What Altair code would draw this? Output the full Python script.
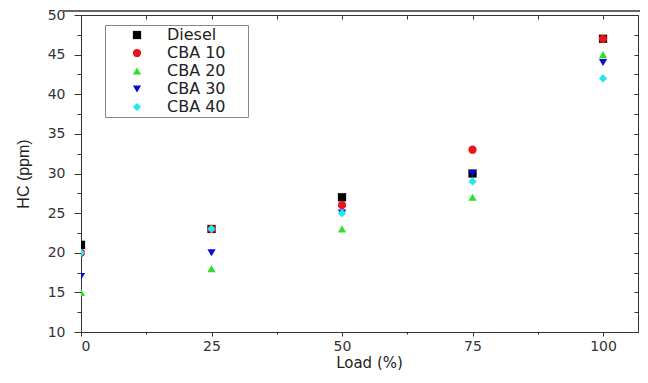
import altair as alt
import pandas as pd

loads = [0, 25, 50, 75, 100]
series_names = ["Diesel", "CBA 10", "CBA 20", "CBA 30", "CBA 40"]
diesel = [21, 23, 27, 30, 47]
cba10 = [20, 23, 26, 33, 47]
cba20 = [15, 18, 23, 27, 45]
cba30 = [17, 20, 25, 30, 44]
cba40 = [20, 23, 25, 29, 42]
colors = ["#000000", "#e8141c", "#2ee02e", "#0a0ad0", "#1ee8f0"]
shapes = ["square", "circle", "triangle-up", "triangle-down", "diamond"]

x_all = [0, 12.5, 25, 37.5, 50, 62.5, 75, 87.5, 100]
y_all = [10 + 2.5 * i for i in range(17)]

rows = []
for name, vals in zip(series_names, [diesel, cba10, cba20, cba30, cba40]):
    for l, v in zip(loads, vals):
        rows.append({"Load": l, "HC": v, "Series": name})
df = pd.DataFrame(rows)

FONT = "Liberation Sans"
WIDE = "DejaVu Sans"
xscale = alt.Scale(domain=[0, 106.7], nice=False, zero=False)
yscale = alt.Scale(domain=[10, 50], nice=False, zero=False)

pad_expr = "datum.label + '\u00a0\u00a0\u00a0\u00a0\u200b'"

points = alt.Chart(df).mark_point(filled=True, opacity=1, size=68, clip=True).encode(
    x=alt.X("Load:Q", scale=xscale, title="Load (%)",
            axis=alt.Axis(values=x_all, orient="bottom",
                          labelExpr="datum.value % 25 === 0 ? datum.label : ''",
                          labelOverlap=False, labelFont=WIDE, labelFontSize=14,
                          labelPadding=3,
                          tickSize={"condition": {"test": "datum.value % 25 === 0", "value": 4}, "value": 2},
                          grid=False, titlePadding=2, titleFont=WIDE, titleFontSize=15,
                          titleX=288, titleAlign="center")),
    y=alt.Y("HC:Q", scale=yscale, title="HC (ppm)",
            axis=alt.Axis(values=y_all, orient="left",
                          labelExpr="datum.value % 5 === 0 ? datum.label : ''",
                          labelOverlap=False, labelFont=WIDE, labelFontSize=14,
                          labelPadding=9,
                          tickSize={"condition": {"test": "datum.value % 5 === 0", "value": 7}, "value": 4},
                          grid=False, titlePadding=16, titleFont=FONT, titleFontSize=16)),
    color=alt.Color("Series:N", sort=series_names,
                    scale=alt.Scale(domain=series_names, range=colors),
                    legend=alt.Legend(title=None, orient="none", legendX=24, legendY=10,
                                      strokeColor="#888", fillColor="white", padding=2,
                                      symbolOffset=22, labelFontSize=16, labelFont=WIDE,
                                      labelColor="#222", symbolSize=68, rowPadding=2,
                                      labelOffset=22, labelExpr=pad_expr)),
    shape=alt.Shape("Series:N", sort=series_names,
                    scale=alt.Scale(domain=series_names, range=shapes)),
)

frame = alt.Chart(df).mark_point(opacity=0).encode(
    x=alt.X("Load:Q", scale=xscale,
            axis=alt.Axis(values=x_all, orient="top", labels=False, title=None, domain=False,
                          offset=-4, tickSize=4, grid=False)),
    y=alt.Y("HC:Q", scale=yscale,
            axis=alt.Axis(values=y_all, orient="right", labels=False, title=None, domain=False,
                          offset=-4, tickSize=4, grid=False)),
)

topline = alt.Chart(df).mark_rule(color="#666", strokeWidth=1, clip=False).encode(
    x=alt.value(-19), x2=alt.value(562), y=alt.value(-4)
)

chart = alt.layer(points, frame, topline).resolve_axis(
    x="independent", y="independent"
).properties(
    width=557, height=317,
    autosize=alt.AutoSizeParams(type="none"),
    padding={"left": 73, "top": 7, "right": 2, "bottom": 38},
).configure_view(
    stroke="#333", strokeWidth=1
).configure_axis(
    domainColor="#333", tickColor="#333", labelColor="#333", titleColor="#222",
    titleFontWeight="normal"
)

chart.save("out.html", embed_options={"renderer": "svg", "actions": False})
